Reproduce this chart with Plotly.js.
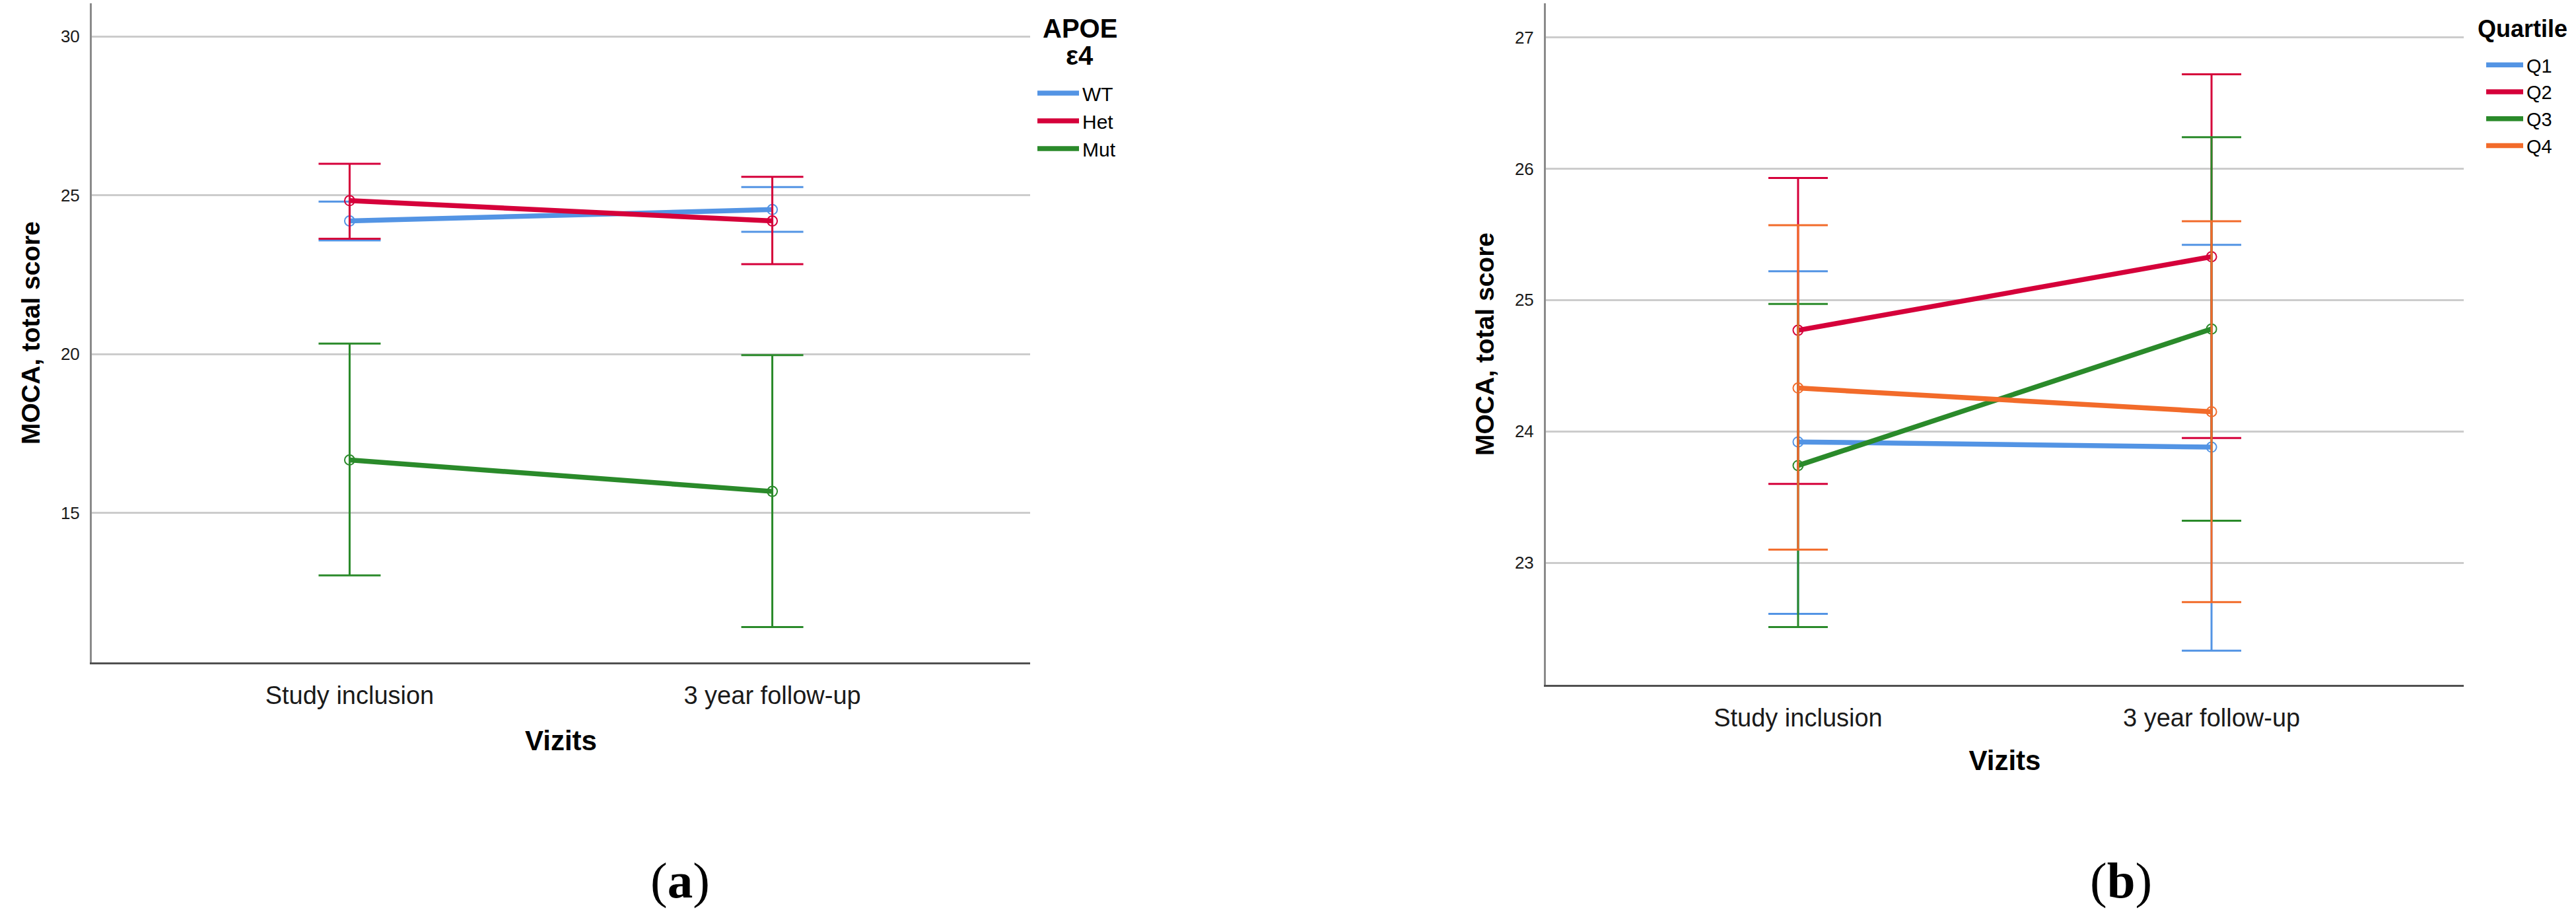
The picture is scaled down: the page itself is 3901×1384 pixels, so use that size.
<!DOCTYPE html>
<html>
<head>
<meta charset="utf-8">
<script src="https://cdn.plot.ly/plotly-3.0.1.min.js"></script>
<style>
  html, body { margin: 0; padding: 0; background: #fff; }
  #chart { width: 3901px; height: 1384px; }
</style>
</head>
<body>
<div id="chart"></div>
<script>
    const visits = ['Study inclusion', '3 year follow-up'];

    // panel (a): APOE e4 groups, mean and 95% CI bounds
    const wtMean = [24.19, 24.55];
    const wtUpper = [24.80, 25.26];
    const wtLower = [23.58, 23.85];
    const hetMean = [24.83, 24.19];
    const hetUpper = [25.99, 25.58];
    const hetLower = [23.63, 22.83];
    const mutMean = [16.67, 15.68];
    const mutUpper = [20.33, 19.97];
    const mutLower = [13.04, 11.41];

    // panel (b): quartiles
    const q1Mean = [23.92, 23.88];
    const q1Upper = [25.22, 25.42];
    const q1Lower = [22.61, 22.33];
    const q2Mean = [24.77, 25.33];
    const q2Upper = [25.93, 26.72];
    const q2Lower = [23.60, 23.95];
    const q3Mean = [23.74, 24.78];
    const q3Upper = [24.97, 26.24];
    const q3Lower = [22.51, 23.32];
    const q4Mean = [24.33, 24.15];
    const q4Upper = [25.57, 25.60];
    const q4Lower = [23.10, 22.70];

    const BLUE = '#5394e4';
    const RED = '#d5003a';
    const GREEN = '#2a8a2a';
    const ORANGE = '#f26b2a';

    const W = 3901, H = 1384;
    const px = v => v / W;
    const py = v => 1 - v / H;

    // one line trace (shown in legend) + one marker/error-bar trace
    function make_traces(name, mean, upper, lower, color, xa, ya, legend, cap) {
        let line = {
            type: 'scatter',
            mode: 'lines',
            x: visits,
            y: mean,
            name: name,
            xaxis: xa,
            yaxis: ya,
            legend: legend,
            line: { color: color, width: 7.5 }
        };
        let points = {
            type: 'scatter',
            mode: 'markers',
            x: visits,
            y: mean,
            name: name,
            showlegend: false,
            xaxis: xa,
            yaxis: ya,
            marker: { symbol: 'circle-open', size: 15, color: color, line: { width: 2, color: color } },
            error_y: {
                type: 'data',
                symmetric: false,
                array: upper.map((u, i) => u - mean[i]),
                arrayminus: lower.map((l, i) => mean[i] - l),
                color: color,
                thickness: 3,
                width: cap
            }
        };
        return [line, points];
    }

    let data = [].concat(
        make_traces('WT', wtMean, wtUpper, wtLower, BLUE, 'x', 'y', 'legend', 47),
        make_traces('Het', hetMean, hetUpper, hetLower, RED, 'x', 'y', 'legend', 47),
        make_traces('Mut', mutMean, mutUpper, mutLower, GREEN, 'x', 'y', 'legend', 47),
        make_traces('Q1', q1Mean, q1Upper, q1Lower, BLUE, 'x2', 'y2', 'legend2', 45),
        make_traces('Q2', q2Mean, q2Upper, q2Lower, RED, 'x2', 'y2', 'legend2', 45),
        make_traces('Q3', q3Mean, q3Upper, q3Lower, GREEN, 'x2', 'y2', 'legend2', 45),
        make_traces('Q4', q4Mean, q4Upper, q4Lower, ORANGE, 'x2', 'y2', 'legend2', 45)
    );

    const FONT = 'Liberation Sans, Arial, sans-serif';

    function x_axis(domain, anchor, standoff) {
        return {
            domain: domain,
            anchor: anchor,
            type: 'category',
            range: [-0.61, 1.61],
            showgrid: false,
            zeroline: false,
            showline: true,
            linecolor: '#505050',
            linewidth: 3,
            ticks: '',
            ticklabelstandoff: 14,
            tickfont: { family: FONT, size: 38, color: '#1a1a1a' },
            title: { text: '<b>Vizits</b>', font: { family: FONT, size: 42, color: '#000' }, standoff: standoff },
            automargin: false,
            fixedrange: true
        };
    }

    function y_axis(domain, anchor, range, dtick) {
        return {
            domain: domain,
            anchor: anchor,
            range: range,
            dtick: dtick,
            tick0: 0,
            showgrid: true,
            gridcolor: '#cccccc',
            gridwidth: 3,
            zeroline: false,
            showline: true,
            linecolor: '#8a8a8a',
            linewidth: 3,
            ticks: '',
            ticklabelstandoff: 10,
            tickfont: { family: FONT, size: 26, color: '#1a1a1a' },
            title: { text: '<b>MOCA, total score</b>', font: { family: FONT, size: 39, color: '#000' }, standoff: 20 },
            automargin: false,
            fixedrange: true
        };
    }

    let layout = {
        width: W,
        height: H,
        margin: { l: 0, r: 0, t: 0, b: 0 },
        paper_bgcolor: '#ffffff',
        plot_bgcolor: '#ffffff',
        font: { family: FONT, color: '#000' },
        xaxis: x_axis([px(139), px(1560)], 'y', 35),
        yaxis: y_axis([py(1003), py(5)], 'x', [10.30, 31.04], 5),
        xaxis2: x_axis([px(2341), px(3731)], 'y2', 31),
        yaxis2: y_axis([py(1037), py(5)], 'x2', [22.07, 27.26], 1),
        showlegend: true,
        legend: {
            x: px(1566), y: py(115), xanchor: 'left', yanchor: 'top',
            bgcolor: 'rgba(0,0,0,0)',
            font: { family: FONT, size: 30, color: '#000' },
            itemwidth: 63,
            itemclick: false
        },
        legend2: {
            x: px(3760), y: py(73), xanchor: 'left', yanchor: 'top',
            bgcolor: 'rgba(0,0,0,0)',
            font: { family: FONT, size: 29, color: '#000' },
            itemwidth: 56,
            itemclick: false
        },
        annotations: [
            // legend titles
            { text: '<b>APOE</b>', xref: 'paper', yref: 'paper', x: px(1635), y: py(43), xanchor: 'center', yanchor: 'middle',
              showarrow: false, font: { family: FONT, size: 40, color: '#000' } },
            { text: '<b>ε4</b>', xref: 'paper', yref: 'paper', x: px(1635), y: py(84), xanchor: 'center', yanchor: 'middle',
              showarrow: false, font: { family: FONT, size: 40, color: '#000' } },
            { text: '<b>Quartile</b>', xref: 'paper', yref: 'paper', x: px(3750), y: py(44), xanchor: 'left', yanchor: 'middle',
              showarrow: false, font: { family: FONT, size: 36, color: '#000' } },
            // panel letters
            { text: '(<b>a</b>)', xref: 'paper', yref: 'paper', x: px(1030), y: py(1333), xanchor: 'center', yanchor: 'middle',
              showarrow: false, font: { family: 'Liberation Serif, Times New Roman, serif', size: 77, color: '#000' } },
            { text: '(<b>b</b>)', xref: 'paper', yref: 'paper', x: px(3212), y: py(1333), xanchor: 'center', yanchor: 'middle',
              showarrow: false, font: { family: 'Liberation Serif, Times New Roman, serif', size: 77, color: '#000' } }
        ]
    };

    Plotly.newPlot('chart', data, layout, { staticPlot: true, displayModeBar: false });
</script>
</body>
</html>
